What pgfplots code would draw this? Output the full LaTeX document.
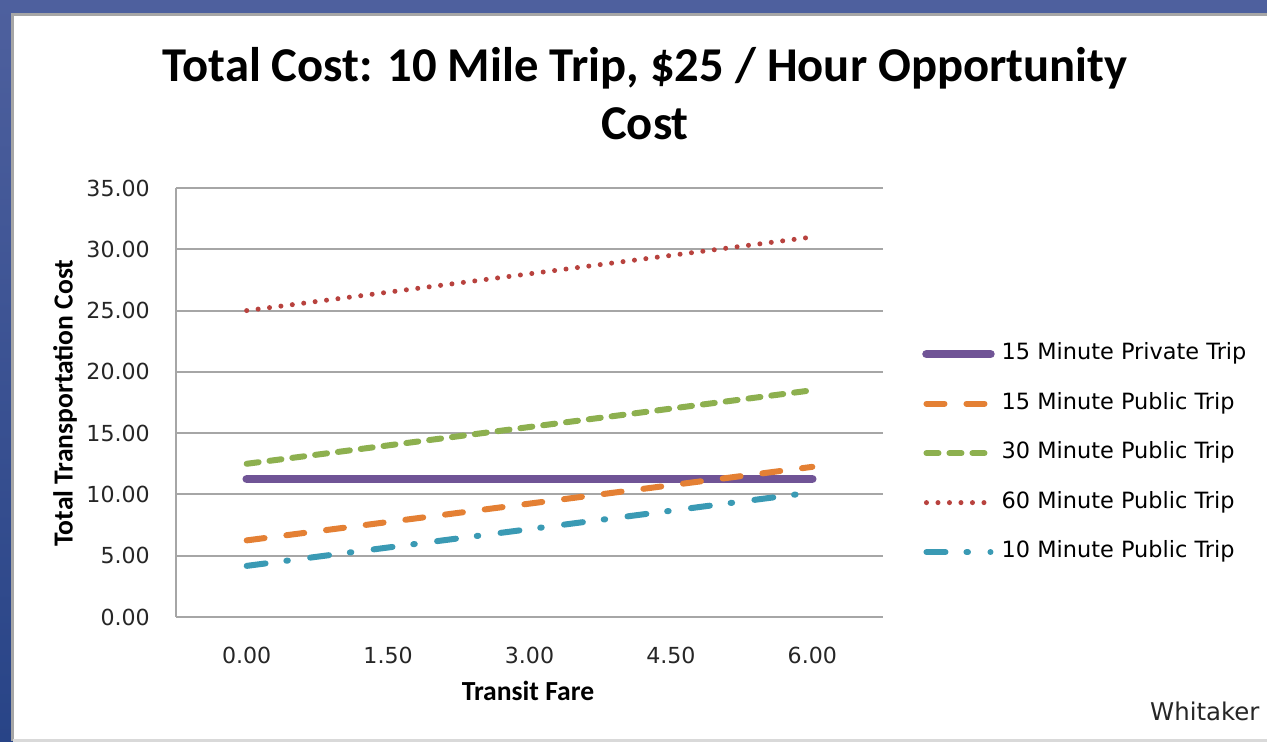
\documentclass[border=0pt]{standalone}
\usepackage{fontspec}
\usepackage{pgfplots}
\pgfplotsset{compat=1.18}
\newfontfamily\carlito{Carlito}
\newfontfamily\dejavu{DejaVu Sans}
\definecolor{cPurple}{RGB}{112,84,150}
\definecolor{cOrange}{RGB}{228,128,52}
\definecolor{cGreen}{RGB}{141,176,79}
\definecolor{cRed}{RGB}{184,66,62}
\definecolor{cTeal}{RGB}{58,154,180}
\definecolor{cGrid}{RGB}{166,166,166}
\definecolor{cBlueA}{RGB}{78,96,158}
\definecolor{cBlueB}{RGB}{40,68,135}
\begin{document}
\begin{tikzpicture}
\useasboundingbox (0,0) rectangle (1267bp,742bp);
\fill[top color=cBlueA, bottom color=cBlueB] (0,0) rectangle (1267bp,742bp);
\fill[white] (12.5bp,1.5bp) rectangle (1275bp,727.5bp);
\draw[cGrid, line width=3bp] (12.5bp,1.5bp) -- (12.5bp,727.5bp) -- (1275bp,727.5bp);
\draw[gray!30, line width=2bp] (12.5bp,1.5bp) -- (1275bp,1.5bp);
\node[font=\carlito\bfseries\fontsize{48.8}{56}\selectfont, anchor=base, inner sep=0] at (645bp,660bp) {Total Cost: 10 Mile Trip, \$25 / Hour Opportunity};
\node[font=\carlito\bfseries\fontsize{48.8}{56}\selectfont, anchor=base, inner sep=0] at (645bp,602bp) {Cost};
\begin{axis}[
  at={(176bp,125bp)}, anchor=south west,
  scale only axis, width=707bp, height=429bp,
  xmin=-0.75, xmax=6.75, ymin=0, ymax=35,
  xtick={0,1.5,3,4.5,6},
  xticklabels={0.00,1.50,3.00,4.50,6.00},
  ytick={0,5,10,15,20,25,30,35},
  yticklabels={0.00,5.00,10.00,15.00,20.00,25.00,30.00,35.00},
  axis x line*=bottom, axis y line*=left,
  axis line style={draw=cGrid, line width=2bp, -},
  ymajorgrids, grid style={cGrid, line width=2bp},
  major tick length=0,
  tick label style={font=\dejavu\fontsize{22.2}{25}\selectfont, text=black!85, inner sep=0},
  xticklabel style={anchor=base, yshift=-46bp},
  yticklabel style={anchor=east, xshift=-26bp},
  clip=false,
  legend style={at={(1.0552,0.382)}, anchor=west, draw=none, fill=none, inner sep=0,
    font=\dejavu\fontsize{22.5}{25}\selectfont, row sep=28bp, column sep=4bp,
    nodes={text height=16.5bp, text depth=5bp, inner ysep=0, inner xsep=3bp}},
  legend cell align=left,
  legend image code/.code={\draw[#1] (4bp,0bp) -- (68bp,0bp);},
]
\addplot[cPurple, line width=8.5bp, line cap=round] coordinates {(0,11.25) (1.5,11.25) (3,11.25) (4.5,11.25) (6,11.25)};
\addlegendentry{15 Minute Private Trip}
\addplot[cOrange, line width=6bp, line cap=round, dash pattern=on 18bp off 22bp] coordinates {(0,6.25) (1.5,7.75) (3,9.25) (4.5,10.75) (6,12.25)};
\addlegendentry{15 Minute Public Trip}
\addplot[cGreen, line width=6bp, line cap=round, dash pattern=on 12bp off 11bp] coordinates {(0,12.5) (1.5,14) (3,15.5) (4.5,17) (6,18.5)};
\addlegendentry{30 Minute Public Trip}
\addplot[cRed, line width=5bp, line cap=round, dash pattern=on 0bp off 11.5bp] coordinates {(0,25) (1.5,26.5) (3,28) (4.5,29.5) (6,31)};
\addlegendentry{60 Minute Public Trip}
\addplot[cTeal, line width=6bp, line cap=round, dash pattern=on 19bp off 21bp on 1.5bp off 22.5bp] coordinates {(0,4.17) (1.5,5.67) (3,7.17) (4.5,8.67) (6,10.17)};
\addlegendentry{10 Minute Public Trip}
\end{axis}
\node[font=\carlito\bfseries\fontsize{27.7}{32}\selectfont, anchor=base, inner sep=0] at (528bp,41bp) {Transit Fare};
\node[font=\carlito\bfseries\fontsize{27.7}{32}\selectfont, rotate=90, anchor=center, inner sep=0] at (65bp,339bp) {Total Transportation Cost};
\node[font=\dejavu\fontsize{24.5}{28}\selectfont, anchor=base west, inner sep=0, text=black!85] at (1150bp,22bp) {Whitaker};
\end{tikzpicture}
\end{document}
